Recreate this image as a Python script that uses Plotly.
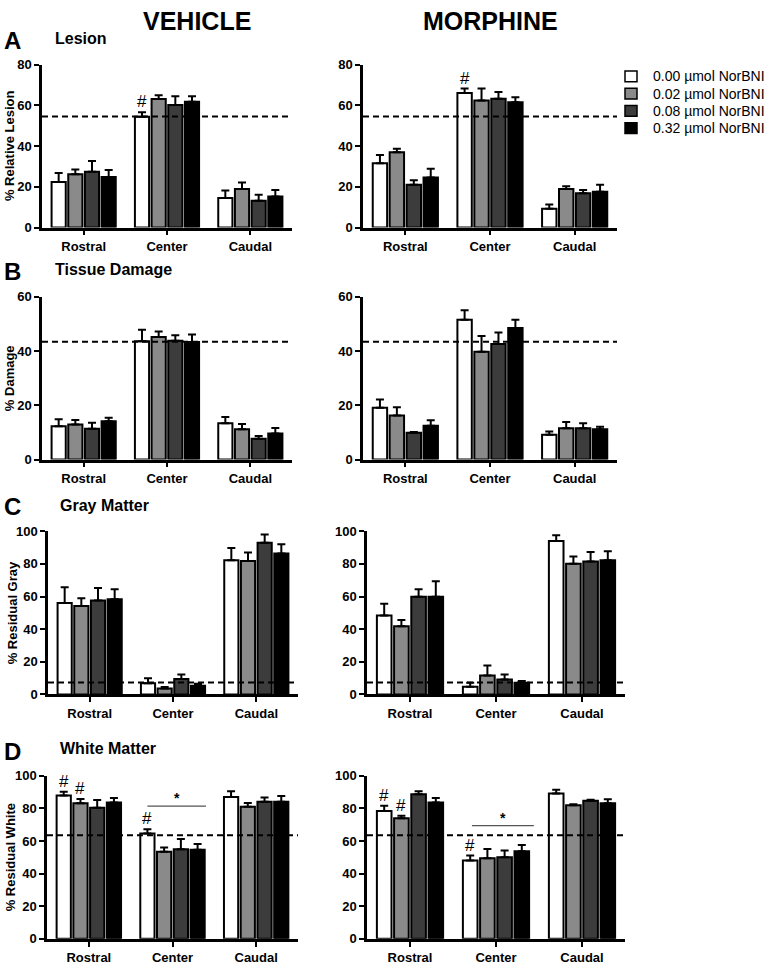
import plotly.graph_objects as go

# ---------------- data ----------------
regions = ["Rostral", "Center", "Caudal"]
doses = ["0.00 µmol NorBNI", "0.02 µmol NorBNI", "0.08 µmol NorBNI", "0.32 µmol NorBNI"]
dose_colors = ["#ffffff", "#8a8a8a", "#3c3c3c", "#000000"]

# means[dose][region], sem[dose][region]
lesion_vehicle_mean = [[22.4, 54.4, 14.5], [26.1, 63.1, 18.9], [27.4, 60.2, 13.1], [24.8, 61.8, 15.2]]
lesion_vehicle_sem = [[4.4, 2.2, 3.7], [2.4, 1.9, 3.2], [5.3, 4.2, 3.0], [3.4, 2.7, 3.2]]
lesion_morphine_mean = [[31.5, 66.0, 9.2], [36.9, 62.4, 18.9], [21.0, 63.2, 16.8], [24.5, 61.5, 17.6]]
lesion_morphine_sem = [[4.1, 2.2, 2.1], [1.8, 5.8, 1.4], [2.2, 3.4, 1.6], [4.4, 2.5, 3.4]]

damage_vehicle_mean = [[12.3, 43.6, 13.4], [12.9, 45.2, 11.2], [11.4, 43.8, 7.7], [14.1, 43.3, 9.6]]
damage_vehicle_sem = [[2.6, 4.2, 2.3], [1.7, 2.0, 1.9], [2.2, 2.0, 1.0], [1.3, 2.8, 2.0]]
damage_morphine_mean = [[19.1, 51.5, 9.1], [16.2, 39.7, 11.5], [9.9, 42.6, 11.5], [12.5, 48.5, 11.2]]
damage_morphine_sem = [[3.0, 3.5, 1.2], [3.1, 5.8, 2.3], [0.3, 4.2, 1.9], [2.0, 3.0, 0.9]]

gray_vehicle_mean = [[56.0, 6.8, 82.3], [54.2, 3.6, 81.7], [57.6, 9.4, 93.0], [58.4, 5.4, 86.3]]
gray_vehicle_sem = [[9.7, 3.2, 7.5], [4.8, 1.0, 5.3], [7.7, 2.8, 5.0], [6.1, 1.2, 5.7]]
gray_morphine_mean = [[48.4, 4.8, 94.0], [41.8, 11.6, 80.1], [59.8, 9.2, 81.5], [59.8, 7.2, 82.3]]
gray_morphine_sem = [[7.2, 2.4, 3.6], [3.8, 6.1, 4.4], [4.7, 3.0, 5.8], [9.5, 1.0, 5.5]]

white_vehicle_mean = [[88.0, 64.7, 87.0], [83.2, 53.5, 81.1], [80.5, 55.0, 84.2], [83.6, 54.6, 84.2]]
white_vehicle_sem = [[2.3, 2.6, 3.5], [2.6, 2.5, 2.3], [4.7, 6.3, 2.6], [2.8, 3.6, 3.4]]
white_morphine_mean = [[78.5, 48.1, 89.2], [74.0, 49.5, 82.0], [88.8, 50.1, 84.8], [83.6, 53.8, 83.2]]
white_morphine_sem = [[3.2, 3.0, 2.3], [1.5, 5.7, 0.6], [1.7, 4.1, 0.6], [2.8, 3.8, 2.4]]

reference_levels = [54.5, 43.4, 7.4, 63.5]   # dashed line per row
y_max = [80, 60, 100, 100]
y_step = [20, 20, 20, 20]
y_titles = ["% Relative Lesion", "% Damage", "% Residual Gray", "% Residual White"]
row_titles = ["Lesion", "Tissue Damage", "Gray Matter", "White Matter"]
row_letters = ["A", "B", "C", "D"]
col_titles = ["VEHICLE", "MORPHINE"]

# significance marks: (panel index, dose index, region index)
hash_marks = [(0, 0, 1), (1, 0, 1), (6, 0, 0), (6, 1, 0), (6, 0, 1), (7, 0, 0), (7, 1, 0), (7, 0, 1)]
# "*" bracket over Center: (panel, x0, x1, y)
star_brackets = [(6, 0.70, 1.40, 81.5), (7, 0.72, 1.44, 69.5)]

panels = [
    (lesion_vehicle_mean, lesion_vehicle_sem), (lesion_morphine_mean, lesion_morphine_sem),
    (damage_vehicle_mean, damage_vehicle_sem), (damage_morphine_mean, damage_morphine_sem),
    (gray_vehicle_mean, gray_vehicle_sem), (gray_morphine_mean, gray_morphine_sem),
    (white_vehicle_mean, white_vehicle_sem), (white_morphine_mean, white_morphine_sem),
]

# ---------------- layout geometry (page pixels) ----------------
W, H = 771, 967
col_px = [  # per row: (left x0, left x1, right x0, right x1)
    (42, 292, 363, 617),
    (42, 292, 363, 617),
    (48, 298, 367, 625),
    (47, 298, 367, 625),
]
row_px = [(58.5, 224), (294.3, 459.7), (532.5, 698.3), (781, 946.5)]  # (top, bottom)

FONT = "Liberation Sans, Arial, Helvetica, sans-serif"
BARGAP, BARGROUPGAP = 0.2, 0.15

fig = go.Figure()
layout_axes = {}
shapes = []
annotations = []


def px2x(px):
    return px / W


def px2y(py):
    return 1 - py / H


for p, (means, sems) in enumerate(panels):
    row, col = divmod(p, 2)
    n = p + 1
    xa = "x" if n == 1 else f"x{n}"
    ya = "y" if n == 1 else f"y{n}"
    for d in range(4):
        fig.add_trace(go.Bar(
            x=list(range(len(regions))), y=means[d], name=doses[d],
            xaxis=xa, yaxis=ya, showlegend=False,
            marker=dict(color=dose_colors[d], line=dict(color="black", width=2)),
            error_y=dict(type="data", symmetric=False, array=sems[d],
                         arrayminus=[0] * len(regions), color="black", thickness=2, width=4),
        ))
    x0, x1 = (col_px[row][0], col_px[row][1]) if col == 0 else (col_px[row][2], col_px[row][3])
    top, bot = row_px[row]
    axcommon = dict(showline=True, linewidth=2.5, linecolor="black", ticks="outside",
                    ticklen=5, tickwidth=2, tickcolor="black", showgrid=False,
                    zeroline=False, tickfont=dict(family=FONT, size=13, color="black", weight="bold"))
    layout_axes["xaxis" if n == 1 else f"xaxis{n}"] = dict(
        domain=[px2x(x0), px2x(x1)], anchor=ya, range=[-0.5, len(regions) - 0.5],
        tickmode="array", tickvals=list(range(len(regions))), ticktext=regions, **axcommon)
    layout_axes["yaxis" if n == 1 else f"yaxis{n}"] = dict(
        domain=[px2y(bot), px2y(top)], anchor=xa, range=[0, y_max[row]],
        tickmode="linear", tick0=0, dtick=y_step[row], **axcommon)
    # dashed reference line
    shapes.append(dict(type="line", xref=f"{xa} domain", yref=ya, x0=0, x1=1,
                       y0=reference_levels[row], y1=reference_levels[row],
                       line=dict(color="black", width=2, dash="6px,4px")))

# offsets of bars inside a group
slot = (1 - BARGAP) / 4
offsets = [-(1 - BARGAP) / 2 + slot * (d + 0.5) for d in range(4)]

for (p, d, r) in hash_marks:
    n = p + 1
    xa = "x" if n == 1 else f"x{n}"
    ya = "y" if n == 1 else f"y{n}"
    means, sems = panels[p]
    annotations.append(dict(x=r + offsets[d], y=means[d][r] + sems[d][r], xref=xa, yref=ya,
                            text="#", showarrow=False, yanchor="bottom", yshift=-1,
                            font=dict(family=FONT, size=17, color="black")))

for (p, bx0, bx1, by) in star_brackets:
    n = p + 1
    xa = f"x{n}"
    ya = f"y{n}"
    shapes.append(dict(type="line", xref=xa, yref=ya, x0=bx0, x1=bx1, y0=by, y1=by,
                       line=dict(color="#555555", width=1.2)))
    annotations.append(dict(x=(bx0 + bx1) / 2, y=by, xref=xa, yref=ya, text="*",
                            showarrow=False, yanchor="bottom", yshift=-2,
                            font=dict(family=FONT, size=14, color="black", weight="bold")))

# column titles
for c, (cx, cy) in enumerate([(197, 14), (491, 14)]):
    annotations.append(dict(x=px2x(cx), y=px2y(cy), xref="paper", yref="paper",
                            text=col_titles[c], showarrow=False, xanchor="center", yanchor="middle",
                            font=dict(family=FONT, size=25, color="black", weight="bold")))

# row letters and row titles
letter_y = [34, 269, 507, 756]
title_pos = [(53, 32), (53, 267), (58, 506), (58, 753)]
for r in range(4):
    annotations.append(dict(x=px2x(2), y=px2y(letter_y[r]), xref="paper", yref="paper",
                            text=row_letters[r], showarrow=False, xanchor="left", yanchor="middle",
                            font=dict(family=FONT, size=24, color="black", weight="bold")))
    annotations.append(dict(x=px2x(title_pos[r][0]), y=px2y(title_pos[r][1]), xref="paper", yref="paper",
                            text=row_titles[r], showarrow=False, xanchor="left", yanchor="middle",
                            font=dict(family=FONT, size=16, color="black", weight="bold")))

# y axis titles
ytitle_x = [9, 9, 12.5, 10]
for r in range(4):
    top, bot = row_px[r]
    annotations.append(dict(x=px2x(ytitle_x[r]), y=px2y((top + bot) / 2), xref="paper", yref="paper",
                            text=y_titles[r], showarrow=False, textangle=-90,
                            xanchor="center", yanchor="middle",
                            font=dict(family=FONT, size=13, color="black", weight="bold")))

# legend (drawn manually)
legend_rows = [70.5, 88, 105.5, 123]
for d in range(4):
    cy = legend_rows[d]
    shapes.append(dict(type="rect", xref="paper", yref="paper",
                       x0=px2x(625), x1=px2x(637), y0=px2y(cy + 5.5), y1=px2y(cy - 5.5),
                       fillcolor=dose_colors[d], line=dict(color="black", width=1.5)))
    annotations.append(dict(x=px2x(651), y=px2y(cy), xref="paper", yref="paper", text=doses[d],
                            showarrow=False, xanchor="left", yanchor="middle",
                            font=dict(family=FONT, size=14, color="black")))

fig.update_layout(
    width=W, height=H, autosize=False,
    margin=dict(l=0, r=0, t=0, b=0),
    paper_bgcolor="white", plot_bgcolor="white",
    barmode="group", bargap=BARGAP, bargroupgap=BARGROUPGAP,
    showlegend=False,
    shapes=shapes, annotations=annotations,
    **layout_axes,
)

fig.write_html(
    "out.html",
    config={"displayModeBar": False},
    post_script="document.body.style.margin='0';document.body.style.overflow='hidden';",
)
